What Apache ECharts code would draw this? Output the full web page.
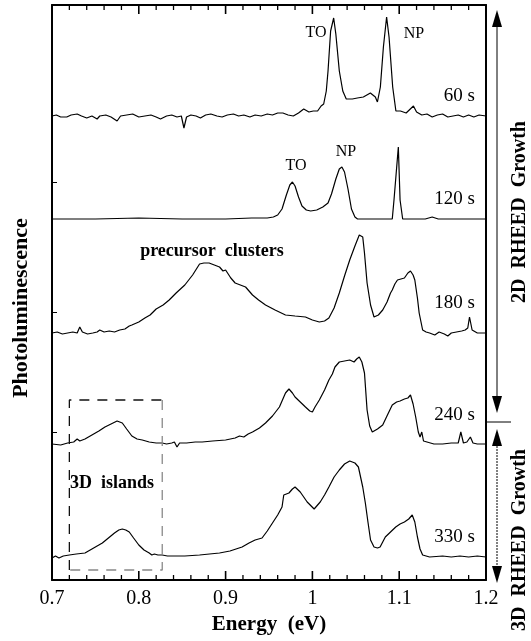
<!DOCTYPE html>
<html>
<head>
<meta charset="utf-8">
<script src="https://cdn.jsdelivr.net/npm/echarts@6/dist/echarts.min.js"></script>
<style>
html,body{margin:0;padding:0;background:#fff;}
#chart{width:531px;height:641px;}
</style>
</head>
<body>
<div id="chart"></div>
<script>
// Energy axis ticks (eV)
const xTicks = [0.7, 0.8, 0.9, 1.0, 1.1, 1.2];
const xMinorStep = 0.02;
// Growth times for each spectrum
const timeLabels = ['60 s', '120 s', '180 s', '240 s', '330 s'];
// Vertical offsets of each spectrum (arbitrary PL units)
const baselineOffsets = [464, 361, 247, 136, 23];
// small marks on the intensity axis
const yTickValues = [148, 268, 398];

// PL spectra [energy eV, intensity a.u.]
const spec60 = [[0.700,0],[0.705,1],[0.710,-1],[0.717,-1],[0.722,1],[0.729,2],[0.734,0],[0.740,-2],[0.746,0],[0.752,-3],[0.755,0],[0.762,1],[0.768,-1],[0.775,-5],[0.779,0],[0.786,1],[0.793,2],[0.800,-1],[0.807,0],[0.814,1],[0.820,-1],[0.825,-3],[0.832,0],[0.838,1],[0.844,-1],[0.849,0],[0.852,-12],[0.855,-1],[0.860,1],[0.866,0],[0.871,-2],[0.877,1],[0.883,2],[0.890,0],[0.896,-1],[0.902,1],[0.909,2],[0.915,0],[0.921,1],[0.928,-1],[0.934,1],[0.941,0],[0.948,2],[0.954,1],[0.960,3],[0.966,3],[0.972,1],[0.978,0],[0.984,3],[0.990,7],[0.996,4],[1.001,5],[1.006,5],[1.010,10],[1.013,12],[1.016,25],[1.018,45],[1.021,85],[1.0245,98],[1.027,82],[1.031,45],[1.035,25],[1.039,17],[1.046,17],[1.0518,18],[1.0587,19],[1.0668,23],[1.0725,19],[1.0749,14],[1.0783,29],[1.0818,69],[1.0855,99],[1.0883,79],[1.0925,29],[1.0962,5],[1.1014,5],[1.108,3],[1.1164,10],[1.12,4],[1.126,1],[1.132,2],[1.138,-1],[1.144,1],[1.150,2],[1.156,-1],[1.162,0],[1.168,1],[1.174,-1],[1.180,1],[1.186,-1],[1.192,1],[1.2,0]];
const spec120 = [[0.700,0],[0.75,0],[0.80,1],[0.85,0],[0.90,0],[0.93,1],[0.948,1],[0.955,2],[0.960,4],[0.965,10],[0.970,24],[0.974,34],[0.977,37],[0.980,33],[0.984,22],[0.988,13],[0.993,9],[0.998,8],[1.005,9],[1.012,12],[1.018,16],[1.022,25],[1.027,40],[1.031,50],[1.034,52],[1.037,47],[1.041,30],[1.045,10],[1.049,2],[1.052,0],[1.092,0],[1.094,19],[1.096,17],[1.099,72],[1.101,19],[1.104,0],[1.13,0],[1.138,2],[1.145,0],[1.2,0]];
const spec180 = [[0.700,0],[0.706,1],[0.712,-1],[0.718,0],[0.724,1],[0.729,0],[0.732,6],[0.735,1],[0.741,-1],[0.747,0],[0.752,1],[0.755,3],[0.760,1],[0.766,2],[0.772,1],[0.778,3],[0.784,4],[0.789,7],[0.792,8],[0.800,11],[0.807,15],[0.813,18],[0.820,24],[0.828,28],[0.835,33],[0.843,40],[0.853,48],[0.862,58],[0.870,69],[0.875,70],[0.881,70],[0.887,68],[0.893,66],[0.897,62],[0.900,63],[0.906,55],[0.911,50],[0.917,48],[0.923,46],[0.927,42],[0.931,38],[0.938,33],[0.946,28],[0.957,23],[0.969,18],[0.980,17],[0.992,16],[1.000,13],[1.008,11],[1.014,12],[1.019,15],[1.025,25],[1.031,40],[1.037,57],[1.043,73],[1.049,87],[1.054,98],[1.058,96],[1.060,80],[1.063,50],[1.067,28],[1.071,16],[1.076,18],[1.081,23],[1.086,31],[1.090,40],[1.092,43],[1.095,49],[1.098,53],[1.102,54],[1.106,55],[1.110,60],[1.113,62],[1.116,58],[1.118,53],[1.121,35],[1.123,20],[1.127,3],[1.131,1],[1.135,0],[1.141,-2],[1.146,1],[1.152,-1],[1.156,-3],[1.160,0],[1.166,1],[1.172,2],[1.176,3],[1.179,5],[1.181,16],[1.184,3],[1.190,0],[1.2,0]];
const spec240 = [[0.700,0],[0.710,-1],[0.718,1],[0.725,2],[0.729,5],[0.732,3],[0.738,5],[0.746,9],[0.754,13],[0.761,17],[0.768,20],[0.775,23],[0.781,21],[0.786,15],[0.792,8],[0.798,5],[0.804,4],[0.812,2],[0.820,1],[0.827,1],[0.832,0],[0.838,1],[0.841,2],[0.844,-3],[0.847,1],[0.855,1],[0.865,2],[0.873,2],[0.885,3],[0.9,4],[0.911,6],[0.916,8],[0.918,6],[0.921,7],[0.926,10],[0.931,12],[0.939,16],[0.946,21],[0.954,28],[0.962,37],[0.969,51],[0.973,55],[0.977,51],[0.980,47],[0.986,42],[0.992,37],[0.997,33],[1.0,32],[1.003,37],[1.008,44],[1.014,54],[1.019,64],[1.023,70],[1.026,77],[1.028,75],[1.031,82],[1.037,83],[1.043,84],[1.048,82],[1.051,85],[1.054,87],[1.057,82],[1.060,71],[1.063,34],[1.066,18],[1.069,12],[1.075,15],[1.081,19],[1.087,30],[1.092,39],[1.097,42],[1.101,43],[1.106,45],[1.110,46],[1.113,49],[1.116,40],[1.119,27],[1.122,12],[1.124,7],[1.126,12],[1.128,3],[1.130,1],[1.14,0],[1.15,0],[1.16,1],[1.168,1],[1.171,12],[1.174,1],[1.178,2],[1.182,7],[1.185,1],[1.19,0],[1.2,0]];
const spec330 = [[0.700,-1],[0.704,1],[0.708,-1],[0.713,1],[0.720,2],[0.728,3],[0.738,4],[0.748,9],[0.758,14],[0.765,19],[0.772,24],[0.777,27],[0.781,28],[0.785,27],[0.789,25],[0.794,19],[0.800,12],[0.806,7],[0.812,4],[0.815,2],[0.818,3],[0.822,2],[0.827,2],[0.833,1],[0.84,1],[0.853,1],[0.87,2],[0.893,4],[0.905,6],[0.919,10],[0.927,14],[0.934,17],[0.942,19],[0.948,26],[0.954,34],[0.96,42],[0.965,50],[0.967,62],[0.969,64],[0.973,64],[0.977,68],[0.980,70],[0.986,65],[0.994,55],[1.002,48],[1.009,55],[1.014,62],[1.019,70],[1.025,80],[1.031,87],[1.037,93],[1.043,96],[1.049,94],[1.053,90],[1.055,82],[1.058,70],[1.061,54],[1.064,35],[1.067,17],[1.071,10],[1.075,9],[1.078,10],[1.084,20],[1.090,25],[1.096,30],[1.101,33],[1.106,35],[1.111,38],[1.115,42],[1.118,35],[1.121,20],[1.124,8],[1.127,2],[1.135,0],[1.15,1],[1.16,0],[1.17,1],[1.18,0],[1.19,1],[1.2,0]];
const spectra = [spec60, spec120, spec180, spec240, spec330];

// dashed "3D islands" box corners [energy, intensity]
const boxEnergy = [0.72, 0.827];
const boxLevel = [10, 180];

const Y_MAX = 575;
const chart = echarts.init(document.getElementById('chart'));
const serif = "'Liberation Serif', 'DejaVu Serif', serif";

// tick segments along the energy axis (bottom and top frame), broken with '-' gaps
const majorTickData = [];
const minorTickData = [];
for (let k = 0; k <= Math.round((xTicks[xTicks.length - 1] - xTicks[0]) / xMinorStep); k++) {
  const v = Math.round((xTicks[0] + k * xMinorStep) * 1000) / 1000;
  const major = k % 5 === 0;
  const len = major ? 9 : 5;
  const target = major ? majorTickData : minorTickData;
  target.push([v, 0], [v, len], ['-', '-'], [v, Y_MAX - len], [v, Y_MAX], ['-', '-']);
}

const series = spectra.map((s, i) => ({
  type: 'line',
  name: timeLabels[i],
  data: s.map(p => [p[0], p[1] + baselineOffsets[i]]),
  showSymbol: false,
  symbol: 'none',
  lineStyle: { color: '#000', width: 1.2 },
  silent: true,
  z: 3
}));
series.push({
  type: 'line', symbol: 'none', silent: true,
  data: [[boxEnergy[0], boxLevel[0]], [boxEnergy[0], boxLevel[1]], [boxEnergy[1], boxLevel[1]]],
  lineStyle: { color: '#111', width: 1.3, type: [10, 8] }
});
series.push({
  type: 'line', symbol: 'none', silent: true,
  data: [[boxEnergy[1], boxLevel[1]], [boxEnergy[1], boxLevel[0]], [boxEnergy[0], boxLevel[0]]],
  lineStyle: { color: '#888', width: 1.3, type: [10, 8] }
});
series.push({
  type: 'line', symbol: 'none', silent: true, connectNulls: false, z: 4,
  data: majorTickData,
  lineStyle: { color: '#000', width: 1.6 }
});
series.push({
  type: 'line', symbol: 'none', silent: true, connectNulls: false, z: 4,
  data: minorTickData,
  lineStyle: { color: '#000', width: 1.3 }
});

const TEXT = (text, x, y, opts) => Object.assign({
  type: 'text', x: x, y: y, silent: true, z: 10,
  style: Object.assign({ text: text, fill: '#000', font: '16px ' + serif, textAlign: 'center', textVerticalAlign: 'middle' }, opts || {})
});

const arrowX = 497;
const graphic = [
  TEXT('Photoluminescence', 21, 308, { font: 'bold 22px ' + serif }),
  TEXT('Energy  (eV)', 269, 625, { font: 'bold 21px ' + serif }),
  TEXT('TO', 316, 33), TEXT('NP', 414, 34),
  TEXT('TO', 296, 166), TEXT('NP', 346, 152),
  TEXT('precursor  clusters', 212, 251, { font: 'bold 18px ' + serif }),
  TEXT('3D  islands', 70, 483, { font: 'bold 18px ' + serif, textAlign: 'left' }),
  TEXT(timeLabels[0], 475, 96, { font: '19px ' + serif, textAlign: 'right' }),
  TEXT(timeLabels[1], 475, 199, { font: '19px ' + serif, textAlign: 'right' }),
  TEXT(timeLabels[2], 475, 303, { font: '19px ' + serif, textAlign: 'right' }),
  TEXT(timeLabels[3], 475, 415, { font: '19px ' + serif, textAlign: 'right' }),
  TEXT(timeLabels[4], 475, 537, { font: '19px ' + serif, textAlign: 'right' }),
  // arrows
  { type: 'line', silent: true, shape: { x1: arrowX, y1: 20, x2: arrowX, y2: 403 }, style: { stroke: '#000', lineWidth: 1 } },
  { type: 'polygon', silent: true, shape: { points: [[arrowX, 10], [arrowX - 5, 27], [arrowX + 5, 27]] }, style: { fill: '#000' } },
  { type: 'polygon', silent: true, shape: { points: [[arrowX, 413], [arrowX - 5, 396], [arrowX + 5, 396]] }, style: { fill: '#000' } },
  { type: 'line', silent: true, shape: { x1: 486, y1: 422, x2: 511, y2: 422 }, style: { stroke: '#000', lineWidth: 1 } },
  { type: 'line', silent: true, shape: { x1: arrowX, y1: 440, x2: arrowX, y2: 573 }, style: { stroke: '#000', lineWidth: 1, lineDash: [2, 1] } },
  { type: 'polygon', silent: true, shape: { points: [[arrowX, 429], [arrowX - 5, 446], [arrowX + 5, 446]] }, style: { fill: '#000' } },
  { type: 'polygon', silent: true, shape: { points: [[arrowX, 583], [arrowX - 5, 566], [arrowX + 5, 566]] }, style: { fill: '#000' } },
  TEXT('2D  RHEED  Growth', 520, 212, { font: 'bold 20px ' + serif }),
  TEXT('3D  RHEED  Growth', 520, 540, { font: 'bold 20px ' + serif })
];
// rotate vertical texts
[0, graphic.length - 2, graphic.length - 1].forEach(k => { graphic[k].rotation = Math.PI / 2; });

chart.setOption({
  animation: false,
  backgroundColor: '#fff',
  grid: { left: 52, right: 45, top: 5, bottom: 61, show: false },
  xAxis: [
    {
      type: 'value', min: 0.7, max: 1.2, position: 'bottom',
      axisLine: { show: true, onZero: false, lineStyle: { color: '#000', width: 2 } },
      axisTick: { show: false }, splitLine: { show: false },
      axisLabel: {
        show: true, color: '#000', fontFamily: serif, fontSize: 20, margin: 9,
        customValues: xTicks,
        formatter: v => String(Math.round(v * 10) / 10)
      }
    },
    {
      type: 'value', min: 0.7, max: 1.2, position: 'top',
      axisLine: { show: true, onZero: false, lineStyle: { color: '#000', width: 2 } },
      axisTick: { show: false }, splitLine: { show: false }, axisLabel: { show: false }
    }
  ],
  yAxis: [
    {
      type: 'value', min: 0, max: Y_MAX, position: 'left',
      axisLine: { show: true, onZero: false, lineStyle: { color: '#000', width: 2 } },
      axisTick: { show: true, inside: true, length: 5, customValues: yTickValues, lineStyle: { color: '#000', width: 1 } },
      axisLabel: { show: false }, splitLine: { show: false }
    },
    {
      type: 'value', min: 0, max: Y_MAX, position: 'right',
      axisLine: { show: true, onZero: false, lineStyle: { color: '#000', width: 2 } },
      axisTick: { show: false }, axisLabel: { show: false }, splitLine: { show: false }
    }
  ],
  series: series,
  graphic: graphic
});
</script>
</body>
</html>
